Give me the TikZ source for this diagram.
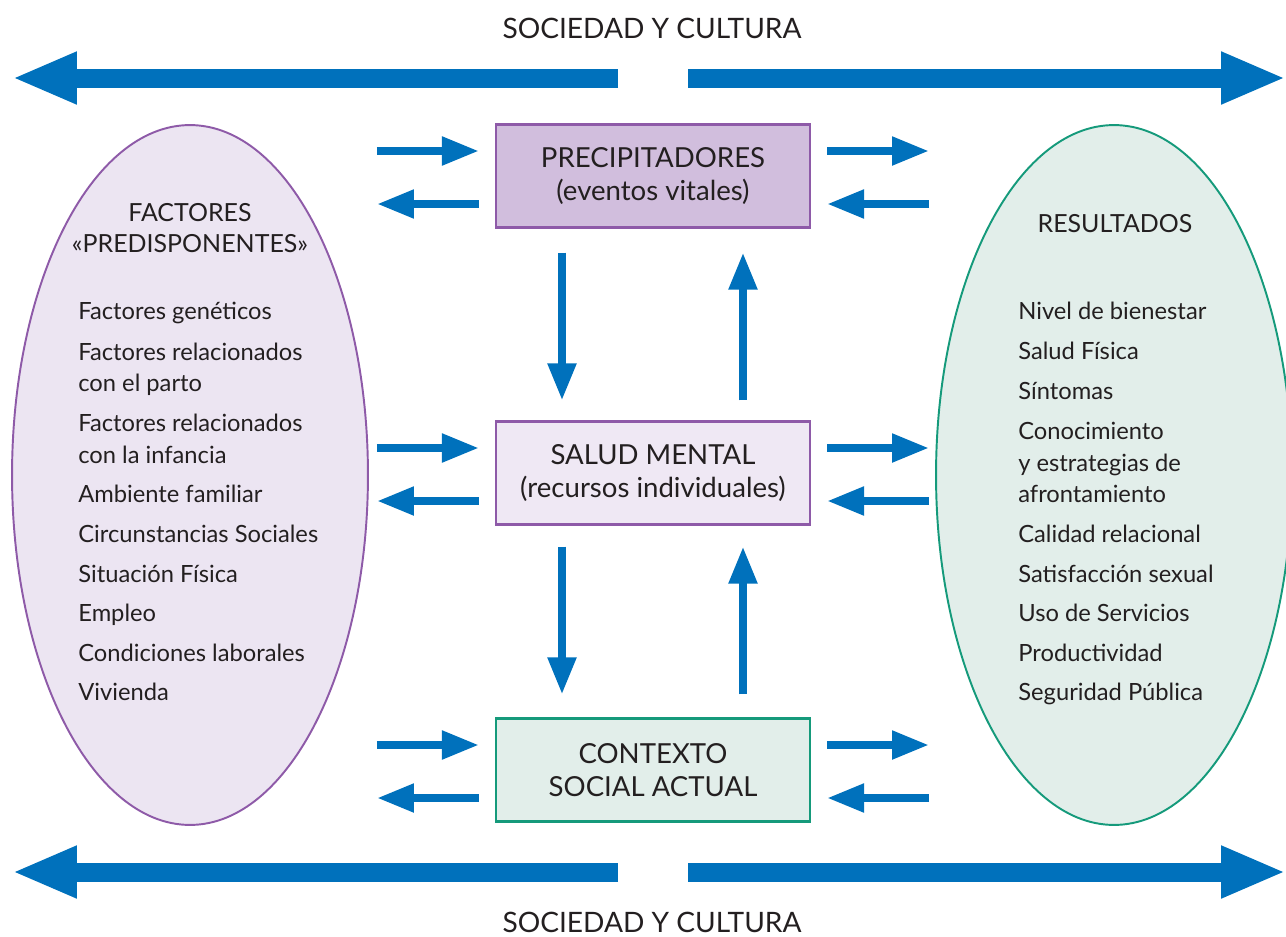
\documentclass[tikz,border=0pt]{standalone}
\usepackage{fontspec}
\setmainfont{Lato}
\usetikzlibrary{arrows.meta,calc,shapes.geometric}

\definecolor{azul}{HTML}{0071BC}
\definecolor{morado}{HTML}{8E5AA8}
\definecolor{lila}{HTML}{ECE5F2}
\definecolor{lilaoscuro}{HTML}{D1BEDD}
\definecolor{lilaclaro}{HTML}{EFE8F4}
\definecolor{verde}{HTML}{159A7B}
\definecolor{verdeclaro}{HTML}{E2EEEA}
\definecolor{texto}{HTML}{231F20}

\tikzset{
  caja/.style={draw, line width=1.2pt, minimum width=6.28cm, minimum height=2.06cm,
    align=center, font=\fontsize{15.7}{18.7}\selectfont, text=texto},
  elipse/.style={ellipse, draw, line width=1.1pt, minimum width=7.12cm,
    minimum height=14cm, inner sep=0pt},
  flechagrande/.style={azul, line width=0.38cm, -{Triangle[width=0.96cm,length=1.3cm]}},
  flecha/.style={azul, line width=0.16cm, -{Triangle[width=0.54cm,length=0.74cm]}},
  titulo/.style={font=\fontsize{16}{18}\selectfont, text=texto},
  encabezado/.style={font=\fontsize{14.2}{17.6}\selectfont, text=texto, align=center},
  item/.style={anchor=base west, font=\fontsize{13.5}{15}\selectfont, text=texto, inner sep=0pt},
}

\begin{document}
\begin{tikzpicture}[x=0.02cm,y=-0.02cm]
\useasboundingbox (0,0) rectangle (1286,937);

% Titles
\node[titulo] (soc1) at (652,28) {SOCIEDAD Y CULTURA};
\node[titulo, anchor=base, inner sep=0pt] (soc2) at (652,932) {SOCIEDAD Y CULTURA};

% Big arrows
\coordinate (gi1) at (618,78);  \coordinate (ge1) at (12,78);
\coordinate (gi2) at (688,78);  \coordinate (ge2) at (1286,78);
\coordinate (gi3) at (618,872); \coordinate (ge3) at (12,872);
\coordinate (gi4) at (688,872); \coordinate (ge4) at (1286,872);
\foreach \i in {1,...,4}
  \draw[flechagrande] (gi\i) -- (ge\i);

% Ellipses
\node[elipse, draw=morado, fill=lila] (pred) at (190,475) {};
\node[elipse, draw=verde, fill=verdeclaro] (res) at (1114,475) {};

% Boxes
\node[caja, draw=morado, fill=lilaoscuro] (prec) at (653,176) {PRECIPITADORES\\(eventos vitales)};
\node[caja, draw=morado, fill=lilaclaro] (mental) at (653,473) {SALUD MENTAL\\(recursos individuales)};
\node[caja, draw=verde, fill=verdeclaro] (contexto) at (653,770) {CONTEXTO\\SOCIAL ACTUAL};

% Side arrows
\foreach \b in {prec,mental,contexto} {
  \draw[flecha] ($(\b.west)+(-118,-25)$) -- ($(\b.west)+(-16,-25)$);
  \draw[flecha] ($(\b.west)+(-16,28)$) -- ($(\b.west)+(-118,28)$);
  \draw[flecha] ($(\b.east)+(16,-25)$) -- ($(\b.east)+(118,-25)$);
  \draw[flecha] ($(\b.east)+(118,28)$) -- ($(\b.east)+(16,28)$);
}

% Vertical arrows
\draw[flecha] ($(prec.south)+(-91,24)$) -- ($(mental.north)+(-91,-20)$);
\draw[flecha] ($(mental.north)+(90,-20)$) -- ($(prec.south)+(90,24)$);
\draw[flecha] ($(mental.south)+(-91,21)$) -- ($(contexto.north)+(-91,-23)$);
\draw[flecha] ($(contexto.north)+(90,-23)$) -- ($(mental.south)+(90,21)$);

% Left ellipse text
\node[encabezado] (factit) at (190,228) {FACTORES\\«PREDISPONENTES»};
\foreach \yy/\t [count=\i] in {312/Factores genéticos, 353/Factores relacionados,
    384/con el parto, 424/Factores relacionados, 456/con la infancia,
    495/Ambiente familiar, 535/Circunstancias Sociales, 575/Situación Física,
    614/Empleo, 654/Condiciones laborales, 693/Vivienda}
  \node[item] (fac\i) at (78,\yy+7) {\t};

% Right ellipse text
\node[encabezado] (restit) at (1115,224) {RESULTADOS};
\foreach \yy/\t [count=\i] in {312/Nivel de bienestar, 352/Salud Física,
    392/Síntomas, 432/Conocimiento, 464/y estrategias de, 495/afrontamiento,
    535/Calidad relacional, 575/Satisfacción sexual, 614/Uso de Servicios,
    654/Productividad, 693/Seguridad Pública}
  \node[item] (r\i) at (1018,\yy+7) {\t};
\end{tikzpicture}
\end{document}
